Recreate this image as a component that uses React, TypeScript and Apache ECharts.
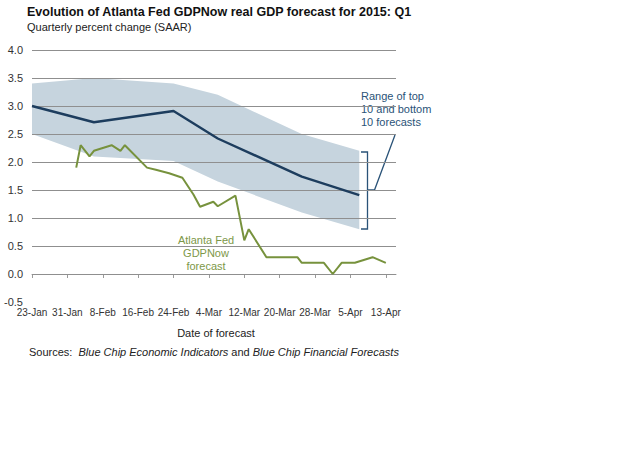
import React, { useEffect, useRef } from 'react';
import * as echarts from 'echarts';

// x values are days after 23-Jan-2015
const xTickDays = [0, 8, 16, 24, 32, 40, 48, 56, 64, 72, 80];
const xTickLabels = ['23-Jan', '31-Jan', '8-Feb', '16-Feb', '24-Feb', '4-Mar', '12-Mar', '20-Mar', '28-Mar', '5-Apr', '13-Apr'];

const gridValues = [0, 0.5, 1, 1.5, 2, 2.5, 3, 3.5, 4];

const bandDays = [0, 14, 32, 42, 61, 74];
const bandTop = [3.4, 3.5, 3.4, 3.2, 2.5, 2.2];
const bandBottom = [2.5, 2.1, 2.02, 1.65, 1.1, 0.8];

const consensusDays = [0, 14, 32, 42, 61, 74];
const consensusValues = [3.0, 2.71, 2.91, 2.42, 1.74, 1.41];

const gdpNowDays = [10, 11, 13, 14, 16, 18, 20, 21, 26, 28, 31, 34, 36.5, 38, 41, 42, 46, 48, 49, 53, 60, 61, 66, 68, 70, 73, 77, 80];
const gdpNowValues = [1.9, 2.3, 2.1, 2.2, 2.25, 2.3, 2.2, 2.3, 1.9, 1.86, 1.8, 1.72, 1.42, 1.2, 1.29, 1.21, 1.4, 0.6, 0.8, 0.3, 0.3, 0.2, 0.2, 0.0, 0.2, 0.2, 0.3, 0.2];

const FONT = '"Liberation Sans", Arial, sans-serif';
const BAND = '#c6d4de';
const NAVY = '#1d3d5e';
const OLIVE = '#77923d';
const LABEL_BLUE = '#2a5378';

export default function App() {
  const ref = useRef<HTMLDivElement>(null);

  useEffect(() => {
    if (!ref.current) return;
    const chart = echarts.init(ref.current, null, { renderer: 'svg' });

    const option: any = {
      animation: false,
      backgroundColor: '#ffffff',
      textStyle: { fontFamily: FONT },
      grid: { left: 32, right: 244, top: 50, bottom: 152 },
      xAxis: {
        type: 'value',
        min: 0,
        max: 82.3,
        axisLine: { show: true, lineStyle: { color: '#9a9a9a', width: 1 } },
        axisTick: { show: true, length: 4, customValues: xTickDays, lineStyle: { color: '#9a9a9a' } },
        axisLabel: {
          customValues: xTickDays,
          fontSize: 10,
          color: '#333',
          margin: 5,
          fontFamily: FONT,
          formatter: (v: number) => {
            const i = xTickDays.indexOf(v);
            return i >= 0 ? xTickLabels[i] : '';
          },
        },
        splitLine: { show: false },
      },
      yAxis: {
        type: 'value',
        min: -0.5,
        max: 4,
        interval: 0.5,
        axisLine: { show: false },
        axisTick: { show: false },
        splitLine: { show: false },
        axisLabel: {
          fontSize: 11,
          color: '#333',
          margin: 9,
          fontFamily: FONT,
          formatter: (v: number) => v.toFixed(1),
        },
      },
      series: [
        {
          type: 'custom',
          name: 'Range',
          z: 1,
          silent: true,
          data: bandDays.map((d, i) => [d, bandTop[i], bandBottom[i]]),
          encode: { x: 0, y: [1, 2] },
          renderItem: (params: any, api: any) => {
            if (params.dataIndex !== 0) return null;
            const pts: number[][] = [];
            for (let i = 0; i < bandDays.length; i++) pts.push(api.coord([bandDays[i], bandTop[i]]));
            for (let i = bandDays.length - 1; i >= 0; i--) pts.push(api.coord([bandDays[i], bandBottom[i]]));
            return { type: 'polygon', shape: { points: pts }, style: { fill: BAND } };
          },
          markLine: {
            silent: true,
            symbol: ['none', 'none'],
            label: { show: false },
            lineStyle: { color: '#8f8f8f', width: 1, type: 'solid' },
            emphasis: { disabled: true },
            data: gridValues.map((v) => ({ yAxis: v })),
          },
        },
        {
          type: 'line',
          name: 'Blue Chip consensus',
          z: 10,
          symbol: 'none',
          silent: true,
          lineStyle: { color: NAVY, width: 2.4 },
          data: consensusDays.map((d, i) => [d, consensusValues[i]]),
        },
        {
          type: 'line',
          name: 'Atlanta Fed GDPNow forecast',
          z: 10,
          symbol: 'none',
          silent: true,
          lineStyle: { color: OLIVE, width: 2 },
          data: gdpNowDays.map((d, i) => [d, gdpNowValues[i]]),
        },
      ],
      graphic: [
        {
          type: 'text',
          x: 27,
          y: 12,
          style: {
            text: 'Evolution of Atlanta Fed GDPNow real GDP forecast for 2015: Q1',
            font: `bold 12.5px ${FONT}`,
            fill: '#111',
            textAlign: 'left',
            textVerticalAlign: 'middle',
          },
        },
        {
          type: 'text',
          x: 27,
          y: 27,
          style: {
            text: 'Quarterly percent change (SAAR)',
            font: `11px ${FONT}`,
            fill: '#222',
            textAlign: 'left',
            textVerticalAlign: 'middle',
          },
        },
        {
          type: 'text',
          x: 42,
          y: 97,
          style: {
            text: '{i|Blue Chip} {r|consensus}',
            textAlign: 'left',
            textVerticalAlign: 'middle',
            rich: {
              i: { font: `italic 11px ${FONT}`, fill: LABEL_BLUE },
              r: { font: `11px ${FONT}`, fill: LABEL_BLUE },
            },
          },
        },
        {
          type: 'text',
          x: 206,
          y: 252.5,
          style: {
            text: 'Atlanta Fed\nGDPNow\nforecast',
            font: `11px ${FONT}`,
            lineHeight: 13,
            fill: '#7d9848',
            textAlign: 'center',
            textVerticalAlign: 'middle',
          },
        },
        {
          type: 'text',
          x: 361,
          y: 109,
          style: {
            text: 'Range of top\n10 and bottom\n10 forecasts',
            font: `11px ${FONT}`,
            lineHeight: 13,
            fill: LABEL_BLUE,
            textAlign: 'left',
            textVerticalAlign: 'middle',
          },
        },
        {
          type: 'polyline',
          shape: { points: [[361, 152], [367.5, 152], [367.5, 229], [361, 229]] },
          style: { stroke: LABEL_BLUE, lineWidth: 1.3, fill: null },
        },
        {
          type: 'polyline',
          shape: { points: [[367.5, 190], [374.5, 190], [395, 135]] },
          style: { stroke: LABEL_BLUE, lineWidth: 1.3, fill: null },
        },
        {
          type: 'text',
          x: 216,
          y: 333,
          style: {
            text: 'Date of forecast',
            font: `11px ${FONT}`,
            fill: '#222',
            textAlign: 'center',
            textVerticalAlign: 'middle',
          },
        },
        {
          type: 'text',
          x: 29,
          y: 352,
          style: {
            text: '{r|Sources:  }{i|Blue Chip Economic Indicators}{r| and }{i|Blue Chip Financial Forecasts}',
            textAlign: 'left',
            textVerticalAlign: 'middle',
            rich: {
              i: { font: `italic 11px ${FONT}`, fill: '#222' },
              r: { font: `11px ${FONT}`, fill: '#222' },
            },
          },
        },
      ],
    };

    chart.setOption(option);
    return () => chart.dispose();
  }, []);

  return (
    <div
      ref={ref}
      style={{ position: 'fixed', left: 0, top: 0, width: 640, height: 454, background: '#fff' }}
    />
  );
}
